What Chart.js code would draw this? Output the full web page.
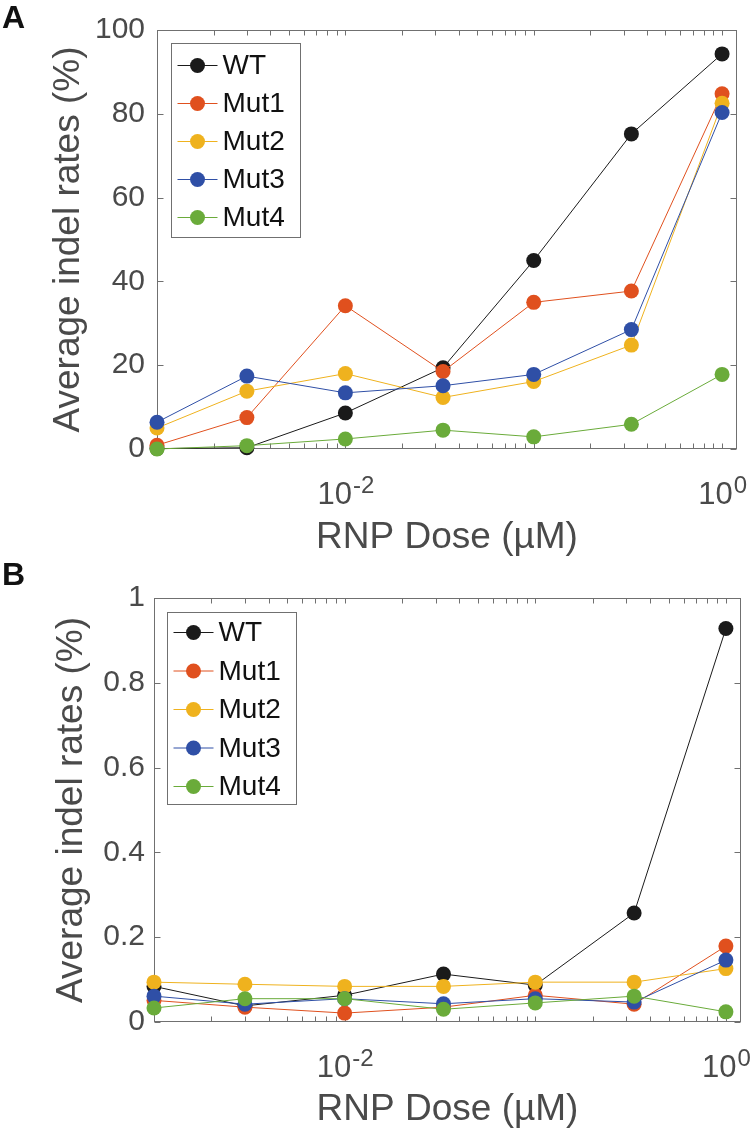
<!DOCTYPE html>
<html>
<head>
<meta charset="utf-8">
<script src="https://cdn.jsdelivr.net/npm/chart.js@4.4.1/dist/chart.umd.min.js"></script>
<style>
  body { margin: 0; background: #fff; }
  .panel { position: relative; width: 753px; }
  canvas { display: block; }
  .tag { position: absolute; left: 2px; font: bold 32px 'Liberation Sans', Arial, sans-serif; line-height: 32px; color: #111; }
</style>
</head>
<body>
<div class="panel">
  <div class="tag" style="top:1px">A</div>
  <canvas id="chartA" width="753" height="560"></canvas>
</div>
<div class="panel">
  <div class="tag" style="top:-2px">B</div>
  <canvas id="chartB" width="753" height="572"></canvas>
</div>
<script>
// RNP dose (uM) for each measurement
const doses = [0.001, 0.003, 0.01, 0.033, 0.1, 0.33, 1];

const seriesNames = ['WT', 'Mut1', 'Mut2', 'Mut3', 'Mut4'];
const seriesColors = ['#1a1a1a', '#e0501e', '#efb21e', '#2f4fa6', '#6aab3a'];

// panel A (%)
const wtA = [0.1, 0.3, 8.6, 19.4, 45.0, 75.2, 94.3];
const mut1A = [0.9, 7.5, 34.2, 18.5, 35.0, 37.7, 84.8];
const mut2A = [5.0, 13.8, 18.0, 12.3, 16.1, 24.8, 82.5];
const mut3A = [6.4, 17.4, 13.4, 15.1, 17.8, 28.5, 80.3];
const mut4A = [0.0, 0.8, 2.4, 4.5, 2.9, 5.9, 17.8];

// panel B (%)
const wtB = [0.084, 0.038, 0.063, 0.113, 0.087, 0.257, 0.928];
const mut1B = [0.051, 0.035, 0.021, 0.035, 0.063, 0.042, 0.179];
const mut2B = [0.094, 0.089, 0.084, 0.084, 0.094, 0.094, 0.126];
const mut3B = [0.061, 0.042, 0.055, 0.043, 0.055, 0.047, 0.146];
const mut4B = [0.033, 0.055, 0.055, 0.030, 0.045, 0.061, 0.024];

// labelled decades on the x axis
const xLabelValues = [0.01, 1];
const xLabelExponents = ['-2', '0'];

const FONT = "'Liberation Sans', Arial, sans-serif";
const TICK_COLOR = '#4a4a4a';
const AXIS_COLOR = '#707070';

function logTickValues(min, max) {
  const out = [];
  for (let e = Math.floor(Math.log10(min)); e <= Math.ceil(Math.log10(max)); e++) {
    for (let m = 1; m <= 9; m++) {
      const v = m * Math.pow(10, e);
      if (v >= min * 0.999 && v <= max) out.push(v);
    }
  }
  return out;
}

// MATLAB-like box with inward ticks, drawn under the data
const framePlugin = {
  id: 'frame',
  beforeDatasetsDraw(chart) {
    const { ctx, chartArea: a, scales } = chart;
    const L = Math.round(a.left) + 0.5, R = Math.round(a.right) - 0.5;
    const T = Math.round(a.top) + 0.5, B = Math.round(a.bottom) - 0.5;
    ctx.save();
    ctx.strokeStyle = AXIS_COLOR;
    ctx.lineWidth = 1;
    ctx.strokeRect(L, T, R - L, B - T);
    ctx.beginPath();
    scales.y.ticks.forEach((t) => {
      const py = Math.round(scales.y.getPixelForValue(t.value)) + 0.5;
      ctx.moveTo(L, py); ctx.lineTo(L + 6, py);
      ctx.moveTo(R, py); ctx.lineTo(R - 6, py);
    });
    logTickValues(scales.x.min, scales.x.max).forEach((v) => {
      const px = Math.round(scales.x.getPixelForValue(v)) + 0.5;
      ctx.moveTo(px, B); ctx.lineTo(px, B - 5);
      ctx.moveTo(px, T); ctx.lineTo(px, T + 5);
    });
    ctx.stroke();
    ctx.restore();
  },
  afterDraw(chart, args, opts) {
    const { ctx, chartArea: a, scales } = chart;
    ctx.save();
    // x tick labels as 10^n
    ctx.fillStyle = TICK_COLOR;
    ctx.textBaseline = 'alphabetic';
    ctx.textAlign = 'left';
    xLabelValues.forEach((v, i) => {
      const px = scales.x.getPixelForValue(v);
      ctx.font = '31px ' + FONT;
      const wb = ctx.measureText('10').width;
      ctx.font = '24px ' + FONT;
      const we = ctx.measureText(xLabelExponents[i]).width;
      const x0 = px - (wb + we) / 2;
      const base = a.bottom + 55;
      ctx.font = '31px ' + FONT;
      ctx.fillText('10', x0, base);
      ctx.font = '24px ' + FONT;
      ctx.fillText(xLabelExponents[i], x0 + wb + 1, base - 11);
    });

    // legend box
    const bx = Math.round(a.left + opts.dx) + 0.5;
    const by = Math.round(a.top + opts.dy) + 0.5;
    ctx.fillStyle = '#fff';
    ctx.fillRect(bx, by, opts.w, opts.h);
    ctx.strokeStyle = AXIS_COLOR;
    ctx.lineWidth = 1;
    ctx.strokeRect(bx, by, opts.w, opts.h);
    ctx.font = '28px ' + FONT;
    ctx.textBaseline = 'middle';
    chart.data.datasets.forEach((ds, i) => {
      const y = by + opts.first + i * opts.step;
      ctx.strokeStyle = ds.borderColor;
      ctx.beginPath();
      ctx.moveTo(bx + 6, y); ctx.lineTo(bx + 46, y);
      ctx.stroke();
      ctx.fillStyle = ds.pointBackgroundColor;
      ctx.beginPath();
      ctx.arc(bx + 26, y, 7.5, 0, Math.PI * 2);
      ctx.fill();
      ctx.fillStyle = '#111';
      ctx.fillText(ds.label, bx + 51, y + 1);
    });
    ctx.restore();
  }
};

function makeDatasets(seriesList) {
  return seriesList.map((vals, i) => ({
    label: seriesNames[i],
    data: doses.map((d, j) => ({ x: d, y: vals[j] })),
    borderColor: seriesColors[i],
    backgroundColor: seriesColors[i],
    pointBackgroundColor: seriesColors[i],
    pointBorderWidth: 0,
    pointRadius: 7.5,
    borderWidth: 1,
    tension: 0,
    clip: false,
    order: seriesList.length - i,
  }));
}

function makeChart(id, seriesList, yMax, yStep, layout) {
  const ctx = document.getElementById(id).getContext('2d');
  return new Chart(ctx, {
    type: 'line',
    data: { datasets: makeDatasets(seriesList) },
    plugins: [framePlugin],
    options: {
      responsive: false,
      animation: false,
      devicePixelRatio: 1,
      layout: { padding: { top: layout.top, right: layout.right, left: 0, bottom: 0 } },
      plugins: {
        legend: { display: false },
        tooltip: { enabled: false },
        frame: layout.legend,
      },
      scales: {
        x: {
          type: 'logarithmic',
          min: 0.001,
          max: 1.2,
          grid: { display: false },
          border: { display: false },
          ticks: { display: false },
          title: {
            display: true,
            text: 'RNP Dose (µM)',
            color: TICK_COLOR,
            font: { family: FONT, size: 37 },
            padding: { top: 0, bottom: 0 },
          },
          afterFit: (scale) => { scale.height = layout.xHeight; },
        },
        y: {
          type: 'linear',
          min: 0,
          max: yMax,
          grid: { display: false, drawTicks: false },
          border: { display: false },
          ticks: {
            stepSize: yStep,
            color: TICK_COLOR,
            padding: layout.tickPad,
            font: { family: FONT, size: 30 },
            callback: (v) => String(Math.round(v * 10) / 10),
          },
          title: {
            display: true,
            text: 'Average indel rates (%)',
            color: TICK_COLOR,
            font: { family: FONT, size: 37 },
            padding: { top: layout.titlePad, bottom: 0 },
          },
          afterFit: (scale) => { scale.width = layout.yWidth; },
        },
      },
    },
  });
}

makeChart('chartA', [wtA, mut1A, mut2A, mut3A, mut4A], 100, 20, {
  top: 25, right: 16, yWidth: 157, xHeight: 111, tickPad: 12, titlePad: 47,
  legend: { dx: 14, dy: 13, w: 129, h: 194, first: 22, step: 38 },
});

makeChart('chartB', [wtB, mut1B, mut2B, mut3B, mut4B], 1, 0.2, {
  top: 38, right: 12, yWidth: 154, xHeight: 110, tickPad: 9, titlePad: 50,
  legend: { dx: 13, dy: 14, w: 129, h: 192, first: 20, step: 38.5 },
});
</script>
</body>
</html>
